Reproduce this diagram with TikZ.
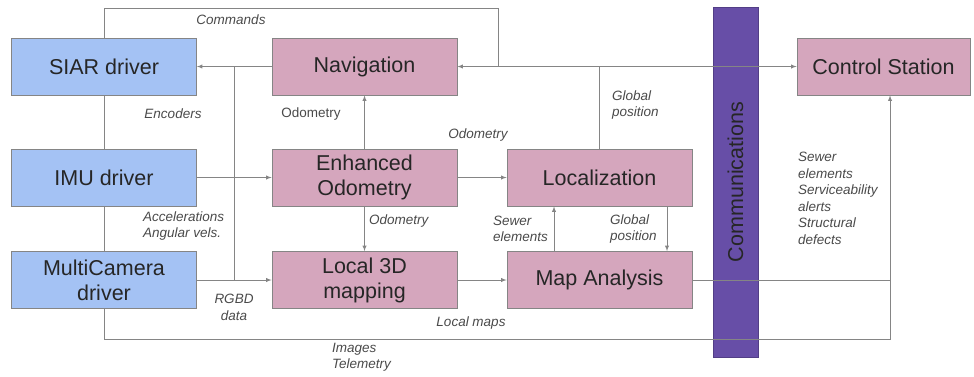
\documentclass[tikz,border=0pt]{standalone}
\usepackage{fontspec}
\setmainfont{Liberation Sans}
\usetikzlibrary{calc, arrows}
\definecolor{driverblue}{HTML}{A4C2F4}
\definecolor{modpink}{HTML}{D5A6BD}
\definecolor{commpurple}{HTML}{674EA7}
\definecolor{wire}{HTML}{858585}
\definecolor{labelgray}{HTML}{4A4A4A}

\begin{document}
\begin{tikzpicture}[>=latex, x=1pt, y=-1pt,
    box/.style={draw=wire, line width=0.8pt, minimum width=185pt, minimum height=57pt,
      align=center, text=black!85, font=\fontsize{21.5}{25}\selectfont},
    driver/.style={box, fill=driverblue},
    module/.style={box, fill=modpink},
    lbl/.style={text=labelgray, align=left, inner sep=0pt,
      font=\fontsize{13.5}{16.5}\selectfont\itshape},
    wires/.style={draw=wire, line width=0.9pt}]
        \useasboundingbox (0,0) rectangle (974,376);

        % the communications bar
        \node[fill=commpurple, draw=commpurple!80!black, rotate=90, minimum width=350pt,
          minimum height=45pt, text=black!85, font=\fontsize{21.5}{25}\selectfont]
          (comms) at (735.5,182) {Communications};

        % the drivers
        \node[driver] (siar) at (104,66.5) {SIAR driver};
        \node[driver] (imu) at (104,177.5) {IMU driver};
        \node[driver] (cam) at (104,280) {MultiCamera\\driver};

        % the modules
        \node[module] (nav) at (364.5,66.5) {Navigation};
        \node[module] (odom) at (364.5,177.5) {Enhanced\\Odometry};
        \node[module] (mapping) at (364.5,280) {Local 3D\\mapping};
        \node[module] (loc) at (599.5,177.5) {Localization};
        \node[module] (analysis) at (599.5,280) {Map Analysis};
        \node[module, minimum width=173pt] (station) at (883.5,66.5) {Control Station};

        % helper points for the bends
        \coordinate (cmdtop) at (498,8);
        \coordinate (tap) at (234,0);
        \coordinate (bend) at (890,339);

        % the arrows
        \begin{scope}[wires]
          \draw[->] (nav.west) -- (siar.east);
          \draw (tap |- nav.west) -- (tap |- cam.east);
          \draw (nav.east -| cmdtop) -- (cmdtop) -| (siar.north);
          \draw[<->] (nav.east) -- (station.west);
          \draw (loc.north) -- (loc.north |- nav.east);
          \draw (siar) -- (imu);
          \draw (imu) -- (cam);
          \draw[->] (imu.east) -- (odom.west);
          \draw[->] (odom.north) -- (nav.south);
          \draw[->] (odom.east) -- (loc.west);
          \draw[->] (odom.south) -- (mapping.north);
          \draw[->] (cam.east) -- (mapping.west);
          \draw[->] (mapping.east) -- (analysis.west);
          \draw[->] ([xshift=-45.5]analysis.north) -- ([xshift=-45.5]loc.south);
          \draw[->] ([xshift=67.5]loc.south) -- ([xshift=67.5]analysis.north);
          \draw[->] (analysis.east) -| (bend |- station.south);
          \draw (cam.south) |- (bend) -- (bend |- analysis.east);
        \end{scope}

        % the labels
        \node[lbl] (lcmd) at (231,20) {Commands};
        \node[lbl] (lenc) at (173,114) {Encoders};
        \node[lbl, font=\fontsize{13.5}{16.5}\selectfont] (lodo1) at (311,114) {Odometry};
        \node[lbl] (lodo2) at (478,135) {Odometry};
        \node[lbl, anchor=west] (lgp1) at (612,105) {Global\\position};
        \node[lbl, anchor=north west] (lsta) at (798,152) {Sewer\\elements\\Serviceability\\alerts\\Structural\\defects};
        \node[lbl, anchor=west] (lacc) at (143,226) {Accelerations\\Angular vels.};
        \node[lbl, anchor=west] (lodo3) at (369,221) {Odometry};
        \node[lbl, align=center] (lrgbd) at (234,307.5) {RGBD\\data};
        \node[lbl] (lmaps) at (471,323) {Local maps};
        \node[lbl, anchor=west] (limg) at (332,357) {Images\\Telemetry};
        \node[lbl, anchor=west] (lsew) at (493,229) {Sewer\\elements};
        \node[lbl, anchor=west] (lgp2) at (610,229) {Global\\position};
\end{tikzpicture}
\end{document}
